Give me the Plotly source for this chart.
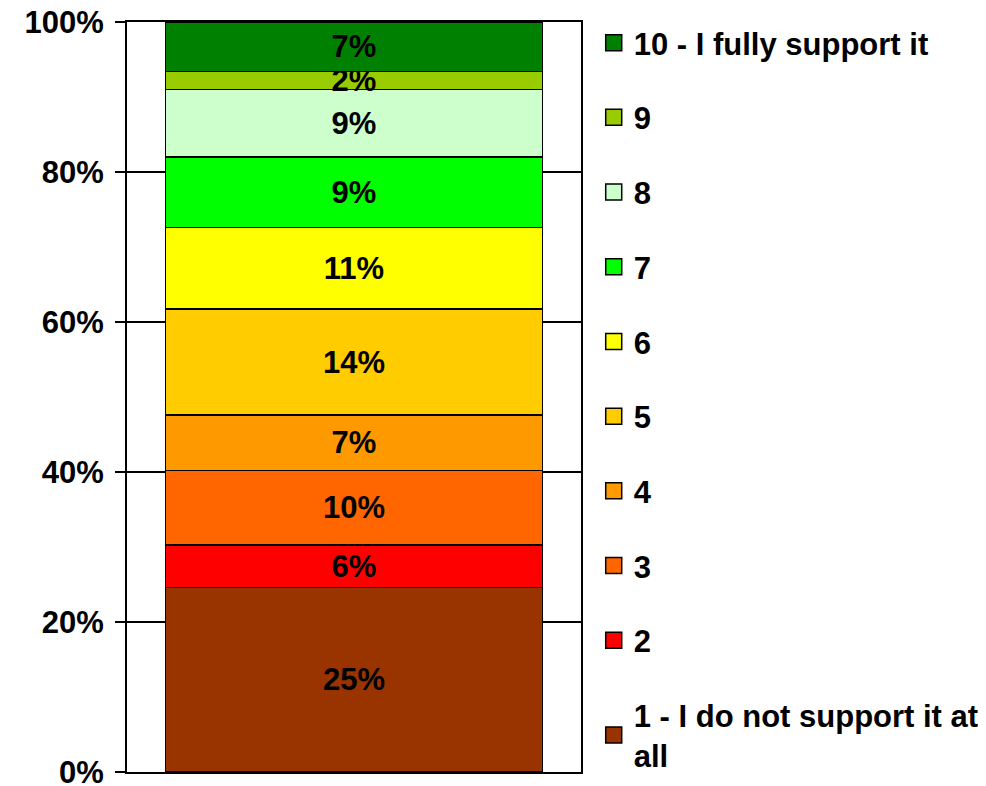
import plotly.graph_objects as go

categories = [""]
series_names = ["1 - I do not support it at<br>all", "2", "3", "4", "5", "6", "7", "8", "9", "10 - I fully support it"]
series_values = [24.6, 5.7, 9.9, 7.4, 14.1, 10.9, 9.4, 9.0, 2.4, 6.6]
series_colors = ["#993300", "#FF0000", "#FF6600", "#FF9900", "#FFCC00",
                 "#FFFF00", "#00FF00", "#CCFFCC", "#99CC00", "#008000"]
tick_values = [0, 20, 40, 60, 80, 100]
tick_labels = ["0%", "20%", "40%", "60%", "80%", "100%"]

FONT = "Liberation Sans, Arial, sans-serif"
FS = 31

fig = go.Figure()
n = len(series_names)
for i, (name, val, col) in enumerate(zip(series_names, series_values, series_colors)):
    fig.add_trace(go.Bar(
        x=categories, y=[val], name=name,
        marker=dict(color=col, line=dict(color="black", width=1.8)),
        text=[f"{round(val):d}%"], textposition="inside", insidetextanchor="middle",
        constraintext="none",
        textfont=dict(family=FONT, size=FS, color="black", weight="bold"),
        showlegend=False, hoverinfo="skip",
    ))
# legend entries (larger square swatches)
for i, (name, col) in enumerate(zip(series_names, series_colors)):
    fig.add_trace(go.Scatter(
        x=categories, y=[None], name=name, mode="markers",
        marker=dict(symbol="square", size=16, color=col, line=dict(color="black", width=1.5)),
        legendgroup=f"g{i}", legendrank=n - i, showlegend=True, hoverinfo="skip",
    ))

fig.update_layout(
    width=986, height=786,
    barmode="stack", bargap=0.17,
    plot_bgcolor="white", paper_bgcolor="white",
    margin=dict(l=119, r=413, t=14, b=22, autoexpand=False),
    font=dict(family=FONT, size=FS, color="black", weight="bold"),
    legend=dict(
        x=1.028, xanchor="left", y=1.008, yanchor="top",
        traceorder="grouped", tracegroupgap=31.4,
        font=dict(family=FONT, size=FS, color="black", weight="bold"),
        itemwidth=30, bgcolor="rgba(0,0,0,0)", maxheight=786,
    ),
    showlegend=True,
)
fig.update_xaxes(showline=True, linecolor="black", linewidth=1.8, mirror=True,
                 showticklabels=False, ticks="", showgrid=False, automargin=False)
fig.update_yaxes(range=[0, 100], tickvals=tick_values, ticktext=tick_labels,
                 showline=True, linecolor="black", linewidth=1.8, mirror=True,
                 ticks="outside", ticklen=10, tickwidth=1.5, tickcolor="black",
                 showgrid=True, gridcolor="black", gridwidth=1.5,
                 ticklabelstandoff=5, zeroline=False, automargin=False,
                 ticklabeloverflow="allow",
                 tickfont=dict(family=FONT, size=FS, color="black", weight="bold"))

fig.write_html("out.html")
